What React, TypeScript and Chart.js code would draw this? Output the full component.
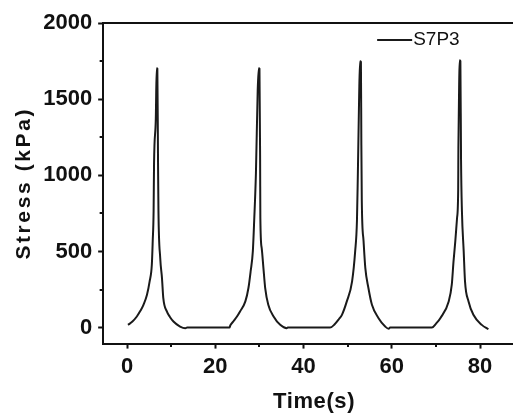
import React, { useEffect, useRef } from 'react';
import { Chart, registerables } from 'chart.js';

Chart.register(...registerables);

const seriesLabel = 'S7P3';
const xTitle = 'Time(s)';
const yTitle = 'Stress (kPa)';

const timeS = [
  0.2, 1.2, 2.2, 3.0, 3.7, 4.5, 5.1, 5.6, 5.8, 6.0, 6.1, 6.5, 6.7, 6.85, 7.0, 7.1, 7.5, 7.9, 8.2, 9.0, 9.7, 10.5, 12.0, 13.2, 13.6,
  23.2, 23.4, 24.2, 24.9, 25.6, 26.8, 27.5, 28.0, 28.5, 28.8, 29.2, 29.6, 29.85, 30.0, 30.15, 30.2, 30.5, 30.9, 31.3, 32.0, 33.2, 34.7, 36.2, 36.4,
  46.0, 47.0, 48.0, 48.7, 49.8, 51.0, 51.7, 52.1, 52.3, 52.6, 52.8, 53.0, 53.1, 53.2, 53.6, 54.0, 54.7, 55.5, 57.0, 58.5, 59.3, 59.6,
  69.1, 70.0, 71.0, 72.9, 73.6, 74.0, 74.4, 74.8, 75.05, 75.1, 75.3, 75.4, 75.55, 75.7, 75.9, 76.3, 76.6, 77.4, 78.5, 80.4, 81.9,
];

const stressKPa = [
  18, 40, 73, 110, 150, 216, 304, 414, 568, 766, 1075, 1373, 1703, 1700, 1100, 766, 457, 325, 193, 106, 70, 40, 7, -4, 0,
  0, 15, 45, 73, 106, 172, 260, 370, 502, 700, 1015, 1558, 1703, 1700, 1100, 721, 523, 391, 260, 150, 73, 18, -4, 0,
  0, 20, 55, 84, 172, 304, 502, 700, 997, 1525, 1749, 1745, 1200, 832, 568, 391, 260, 150, 62, 7, -8, 0,
  0, 25, 62, 172, 282, 436, 568, 721, 900, 1182, 1650, 1756, 1750, 1100, 766, 502, 304, 172, 84, 18, -11,
];

const xRange = [-5.44, 90.2];
const yRange = [-105, 2000];
const xTickValues = [0, 20, 40, 60, 80];
const yTickValues = [0, 500, 1000, 1500, 2000];
const xMinorTicks = [10, 30, 50, 70];
const yMinorTicks = [250, 750, 1250, 1750];

const FONT = "'Liberation Sans', Arial, Helvetica, sans-serif";
const INK = '#111111';

const minorTicksPlugin = {
  id: 'minorTicks',
  afterDraw(chart: any) {
    const { ctx, chartArea, scales } = chart;
    const x = scales.x;
    const y = scales.y;
    ctx.save();
    ctx.strokeStyle = INK;
    ctx.lineWidth = 2;
    ctx.beginPath();
    xMinorTicks.forEach((v) => {
      const px = Math.round(x.getPixelForValue(v));
      ctx.moveTo(px, chartArea.bottom);
      ctx.lineTo(px, chartArea.bottom + 3.5);
    });
    yMinorTicks.forEach((v) => {
      const py = Math.round(y.getPixelForValue(v));
      ctx.moveTo(chartArea.left, py);
      ctx.lineTo(chartArea.left - 3.5, py);
    });
    ctx.stroke();
    ctx.restore();
  },
};

const legendPlugin = {
  id: 'insideLegend',
  afterDatasetsDraw(chart: any) {
    const { ctx, chartArea } = chart;
    const ds = chart.data.datasets[0];
    const x0 = chartArea.left + 274;
    const y0 = chartArea.top + 17;
    ctx.save();
    ctx.strokeStyle = ds.borderColor;
    ctx.lineWidth = 2;
    ctx.beginPath();
    ctx.moveTo(x0, y0);
    ctx.lineTo(x0 + 35, y0);
    ctx.stroke();
    ctx.fillStyle = INK;
    ctx.font = `19px ${FONT}`;
    ctx.textBaseline = 'middle';
    ctx.textAlign = 'left';
    ctx.fillText(ds.label, x0 + 36, y0);
    ctx.restore();
  },
};

const titleSpacingPlugin = {
  id: 'titleSpacing',
  beforeDraw(chart: any) {
    const patch = (id: string, spacing: string) => {
      const s: any = chart.scales[id];
      if (!s || s.__spacingPatched) return;
      const orig = s.drawTitle;
      s.drawTitle = function (...args: any[]) {
        const c: any = chart.ctx;
        const prev = c.letterSpacing;
        c.letterSpacing = spacing;
        orig.apply(s, args);
        c.letterSpacing = prev || '0px';
      };
      s.__spacingPatched = true;
    };
    patch('y', '2.6px');
    patch('x', '0.6px');
  },
};

export default function App() {
  const canvasRef = useRef<HTMLCanvasElement | null>(null);

  useEffect(() => {
    if (!canvasRef.current) return;
    const points = timeS.map((t, i) => ({ x: t, y: stressKPa[i] }));
    const chart = new Chart(canvasRef.current, {
      type: 'line',
      data: {
        datasets: [
          {
            label: seriesLabel,
            data: points,
            borderColor: '#1a1a1a',
            backgroundColor: '#1a1a1a',
            borderWidth: 2,
            pointRadius: 0,
            fill: false,
            cubicInterpolationMode: 'monotone',
          },
        ],
      },
      options: {
        responsive: false,
        animation: false,
        layout: { padding: { left: 0, top: 23, right: 1, bottom: 0 } },
        plugins: {
          legend: { display: false },
          tooltip: { enabled: false },
        },
        scales: {
          x: {
            type: 'linear',
            position: 'bottom',
            min: xRange[0],
            max: xRange[1],
            afterBuildTicks: (scale: any) => {
              scale.ticks = xTickValues.map((v) => ({ value: v }));
            },
            ticks: {
              color: INK,
              font: { family: FONT, size: 22, weight: 'bold' },
              padding: 5,
              maxRotation: 0,
              autoSkip: false,
              callback: (v: any) => String(v),
            },
            grid: { drawOnChartArea: false, tickLength: 5, tickWidth: 2, tickColor: INK },
            border: { display: true, color: INK, width: 2 },
            title: {
              display: true,
              text: xTitle,
              color: INK,
              font: { family: FONT, size: 22, weight: 'bold', lineHeight: 1 },
              padding: { top: 6, bottom: 0 },
            },
          },
          xTop: {
            type: 'linear',
            position: 'top',
            min: xRange[0],
            max: xRange[1],
            ticks: { display: false },
            grid: { display: false, drawTicks: false },
            border: { display: true, color: INK, width: 2 },
          },
          y: {
            type: 'linear',
            min: yRange[0],
            max: yRange[1],
            afterBuildTicks: (scale: any) => {
              scale.ticks = yTickValues.map((v) => ({ value: v }));
            },
            ticks: {
              color: INK,
              font: { family: FONT, size: 22, weight: 'bold' },
              padding: 6,
              autoSkip: false,
              callback: (v: any) => String(v),
            },
            grid: { drawOnChartArea: false, tickLength: 5, tickWidth: 2, tickColor: INK },
            border: { display: true, color: INK, width: 2 },
            title: {
              display: true,
              text: yTitle,
              color: INK,
              font: { family: FONT, size: 21, weight: 'bold', lineHeight: 1.2 },
              padding: { top: 12, bottom: 0 },
            },
          },
        },
      } as any,
      plugins: [titleSpacingPlugin, minorTicksPlugin, legendPlugin],
    });
    return () => chart.destroy();
  }, []);

  return (
    <div
      style={{
        position: 'fixed',
        left: 0,
        top: 0,
        width: 513,
        height: 413,
        overflow: 'hidden',
        background: '#ffffff',
      }}
    >
      <canvas ref={canvasRef} width={526} height={413} style={{ display: 'block', width: 526, height: 413 }} />
    </div>
  );
}
